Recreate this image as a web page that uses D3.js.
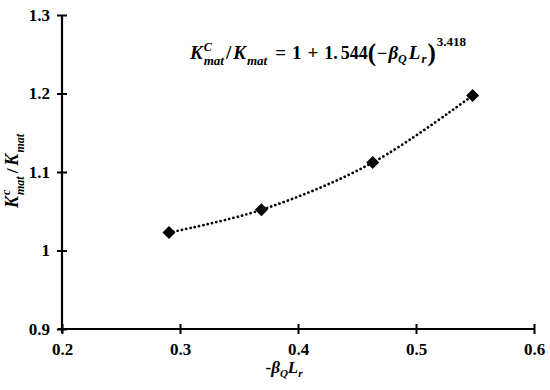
<!DOCTYPE html>
<html>
<head>
<meta charset="utf-8">
<script src="https://cdn.jsdelivr.net/npm/d3@7"></script>
<style>
  body { margin: 0; background: #fff; }
</style>
</head>
<body>
<div id="chart"></div>
<script>
// data
var xValues = [0.2907, 0.369, 0.4633, 0.548];
var yValues = [1.0229, 1.0518, 1.112, 1.1975];
var xTicks = [0.2, 0.3, 0.4, 0.5, 0.6];
var yTicks = [0.9, 1.0, 1.1, 1.2, 1.3];

var serif = 'Liberation Serif';
var width = 550, height = 390;
var margin = { top: 15, right: 16, bottom: 61, left: 62 };

var svg = d3.select('#chart').append('svg')
  .attr('width', width)
  .attr('height', height);

var x = d3.scaleLinear().domain([0.2, 0.6]).range([margin.left, width - margin.right]);
var y = d3.scaleLinear().domain([0.9, 1.3]).range([height - margin.bottom, margin.top]);

var points = xValues.map((d, i) => ({ x: d, y: yValues[i] }));

// x axis - ticks cross the line
var xAxis = svg.append('g')
  .attr('transform', `translate(0, ${y(0.9)})`)
  .call(d3.axisBottom(x).tickValues(xTicks).tickFormat(d => d3.format('.1f')(d)).tickSizeOuter(0).tickSize(5));
xAxis.attr('font-family', serif);
xAxis.select('.domain').attr('stroke-width', 2.2).attr('d', `M${x(0.2) - 4},0H${x(0.6)}`);
xAxis.selectAll('.tick line').attr('y1', -5).attr('y2', 5).attr('stroke-width', 2);
xAxis.selectAll('.tick text').attr('y', 14).attr('font-size', 17).attr('font-weight', 'bold').attr('fill', '#000');

// y axis
var yAxis = svg.append('g')
  .attr('transform', `translate(${x(0.2)}, 0)`)
  .call(d3.axisLeft(y).tickValues(yTicks).tickFormat(d => d === 1 ? '1' : d3.format('.1f')(d)).tickSizeOuter(0).tickSize(5));
yAxis.attr('font-family', serif);
yAxis.select('.domain').attr('stroke-width', 2.2).attr('d', `M0,${y(1.3)}V${y(0.9) + 4}`);
yAxis.selectAll('.tick text').attr('x', -12).attr('font-size', 17).attr('font-weight', 'bold').attr('fill', '#000');
yAxis.selectAll('.tick line').attr('x1', -5).attr('x2', 5).attr('stroke-width', 2);

// dotted trend line through the points
var line = d3.line()
  .x(d => x(d.x))
  .y(d => y(d.y))
  .curve(d3.curveCatmullRom);
svg.append('path')
  .datum(points)
  .attr('d', line)
  .attr('fill', 'none')
  .attr('stroke', '#000')
  .attr('stroke-width', 2.7)
  .attr('stroke-linecap', 'round')
  .attr('stroke-dasharray', '0.1 4.3');

// diamond markers
svg.selectAll('.pt')
  .data(points)
  .join('path')
  .attr('class', 'pt')
  .attr('transform', d => `translate(${x(d.x)}, ${y(d.y)})`)
  .attr('d', 'M0,-6.5L6.5,0L0,6.5L-6.5,0Z')
  .attr('fill', '#000');

// write text pieces one after another, with sub/superscripts
function writeRuns(g, runs, x0, base) {
  var cx = x0, lastX = x0;
  runs.forEach(r => {
    var t = g.append('text')
      .attr('x', cx)
      .attr('y', base + (r.dy || 0))
      .attr('font-family', serif)
      .attr('font-weight', 'bold')
      .attr('font-size', r.size || 15)
      .attr('font-style', r.it ? 'italic' : 'normal')
      .attr('fill', '#000')
      .text(r.t);
    var w = t.node().getComputedTextLength();
    lastX = cx;
    cx += w + (r.gap || 0);
    if (r.hold) cx = lastX;
  });
  return cx - x0;
}

// equation
var eq = svg.append('g');
writeRuns(eq, [
  { t: 'K', it: true, size: 19, gap: 1 },
  { t: 'C', it: true, size: 12, dy: -8, hold: true },
  { t: 'mat', it: true, size: 13, dy: 5.5, gap: 2 },
  { t: '/', size: 19, gap: 2 },
  { t: 'K', it: true, size: 19, gap: 1 },
  { t: 'mat', it: true, size: 13, dy: 5.5, gap: 8 },
  { t: '=', size: 19, gap: 6 },
  { t: '1', size: 19, gap: 6 },
  { t: '+', size: 19, gap: 6 },
  { t: '1.', size: 18, gap: 3 },
  { t: '544', size: 18 },
  { t: '(', size: 25, dy: 2, gap: 1 },
  { t: '−', size: 18, gap: 1 },
  { t: 'β', it: true, size: 19 },
  { t: 'Q', it: true, size: 12, dy: 4, gap: 2 },
  { t: 'L', it: true, size: 19, gap: 1 },
  { t: 'r', it: true, size: 13, dy: 4, gap: 1 },
  { t: ')', size: 25, dy: 2, gap: 1 },
  { t: '3.418', size: 13, dy: -13 }
], 190, 59);

// x axis title
var xt = svg.append('g');
var xw = writeRuns(xt, [
  { t: '-', size: 17 },
  { t: 'β', it: true, size: 17 },
  { t: 'Q', it: true, size: 11, dy: 4 },
  { t: 'L', it: true, size: 17 },
  { t: 'r', it: true, size: 11, dy: 4 }
], 0, 0);
xt.attr('transform', `translate(${284 - xw / 2}, 373)`);

// y axis title (rotated)
var yt = svg.append('g');
var yw = writeRuns(yt, [
  { t: 'K', it: true, size: 18, gap: 1 },
  { t: 'c', it: true, size: 12, dy: -8, hold: true },
  { t: 'mat', it: true, size: 12, dy: 5.5, gap: 3 },
  { t: '/', size: 17, gap: 3 },
  { t: 'K', it: true, size: 18, gap: 1 },
  { t: 'mat', it: true, size: 12, dy: 5.5 }
], 0, 0);
yt.attr('transform', `translate(18, ${171 + yw / 2}) rotate(-90)`);
</script>
</body>
</html>
